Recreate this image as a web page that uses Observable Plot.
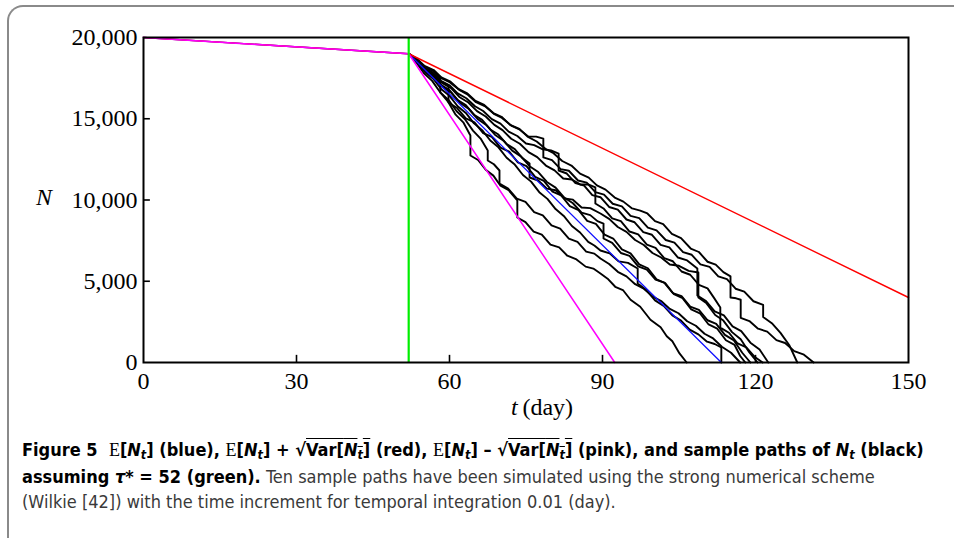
<!DOCTYPE html>
<html><head><meta charset="utf-8">
<script src="https://cdn.jsdelivr.net/npm/d3@7"></script>
<script src="https://cdn.jsdelivr.net/npm/@observablehq/plot@0.6"></script>
<style>
html,body{margin:0;padding:0;background:#fff;width:954px;height:538px;overflow:hidden;}
#wrap{position:relative;width:954px;height:538px;}
#box{position:absolute;left:7px;top:5px;width:980px;height:600px;border-top:2px solid #8a8a8a;border-left:2px solid #8a8a8a;border-top-left-radius:16px;box-sizing:border-box;}
#chart{position:absolute;left:0;top:0;}
.lab{position:absolute;font-family:"Liberation Serif","Times New Roman",serif;font-size:24px;color:#000;white-space:nowrap;}
#cap{position:absolute;left:22px;top:437px;width:925px;font-family:"Liberation Sans Narrow","DejaVu Sans Condensed","Roboto Condensed",sans-serif;font-size:18px;line-height:25.5px;color:#3a3a3a;white-space:nowrap;}
#cap b{color:#000;}
.sf{font-family:"Liberation Serif",serif;font-weight:normal;}
.ov{text-decoration:overline;}
sub{font-size:70%;vertical-align:-0.25em;line-height:0;}
</style></head>
<body><div id="wrap">
<div id="box"></div>
<div id="chart"></div>
<div class="lab" style="left:36px;top:184px;"><i>N</i></div>
<div class="lab" style="left:511px;top:394px;"><i>t</i>&#8201;(day)</div>
<div id="cap">
<div><b>Figure 5&nbsp; <span class="sf">E</span>[<i>N<sub>t</sub></i>] (blue), <span class="sf">E</span>[<i>N<sub>t</sub></i>] + √<span class="ov">Var[<i>N<sub>t</sub></i>]</span> (red), <span class="sf">E</span>[<i>N<sub>t</sub></i>] – √<span class="ov">Var[<i>N<sub>t</sub></i>]</span> (pink), and sample paths of <i>N<sub>t</sub></i> (black)</b></div>
<div><b>assuming <i>τ</i>* = 52 (green).</b> Ten sample paths have been simulated using the strong numerical scheme</div>
<div>(Wilkie [42]) with the time increment for temporal integration 0.01 (day).</div>
</div>
</div>
<script>
// ---- data (t in days, N) ----
const tauStar = 52;
const xTicks = [0, 30, 60, 90, 120, 150];
const yTicks = [0, 5000, 10000, 15000, 20000];
const xInnerTicks = [30, 60, 90, 120];
const yInnerTicks = [5000, 10000, 15000];

const meanPath  = [[0,20000],[52,19000],[113.3,0]];
const upperPath = [[0,20000],[52,19000],[150,4000]];
const lowerPath = [[0,20000],[52,19000],[92.4,0]];

const path1 = [[52,19000],[53.6,18700],[55.1,18250],[56.9,18000],[58.4,17550],[60.2,17280],[61.8,16820],[63.5,16560],[65.1,16100],[66.8,15850],[68.6,15350],[70.2,15120],[71.9,14620],[73.7,14380],[75.3,13900],[77.1,13600],[78.8,13150],[80.4,12880],[82.1,12400],[83.9,12120],[85.6,11620],[87.3,11380],[88.9,10900],[90.6,10640],[92.4,10150],[94.1,9900],[95.8,9480],[97.4,9350],[98.8,9170],[100.3,8700],[101.9,8520],[103.6,7920],[105.4,7650],[107.3,7015],[108.9,6800],[110.6,6200],[112.2,6020],[113.7,5560],[115.1,5300],[115.1,4000],[116.2,3950],[117.1,3860],[117.1,2750],[118.8,2550],[120.5,2080],[122.3,1900],[124.1,1380],[125.8,1200],[127.6,700],[129.5,480],[131.4,0]];
const path2 = [[52,19000],[53.4,18680],[55.2,18200],[56.8,17950],[58.5,17480],[60.1,17230],[61.9,16780],[63.6,16480],[65.2,16020],[67.0,15760],[68.7,15300],[70.3,15050],[72.1,14580],[73.8,14330],[75.5,13900],[77.0,13900],[78.4,13780],[78.4,12620],[80.1,12450],[81.8,11900],[83.4,11800],[85.2,11200],[86.9,11070],[88.6,10480],[90.3,10330],[92.0,9770],[93.8,9610],[95.5,9020],[97.2,8880],[98.9,8300],[100.6,8130],[102.4,7540],[104.1,7380],[105.8,6790],[107.5,6630],[109.2,6040],[111.0,5880],[112.7,5300],[114.4,5130],[116.1,4540],[117.8,4360],[119.6,3770],[121.5,3550],[121.5,2800],[123.2,2420],[124.9,1820],[126.6,1080],[128.2,0]];
const path3 = [[52,19000],[53.5,18620],[55.0,18140],[56.7,17840],[58.3,17340],[60.0,17060],[61.6,16560],[63.3,16260],[65.0,15770],[66.6,15480],[68.3,14980],[70.0,14700],[71.6,14210],[73.3,13940],[75.0,13480],[76.6,13380],[78.3,13120],[79.9,13050],[81.4,12860],[81.4,11815],[83.0,11630],[84.7,11040],[86.4,10880],[88.0,10300],[89.6,10170],[91.3,9570],[93.0,9410],[94.7,8800],[96.3,8630],[98.0,8020],[99.7,7860],[101.4,7240],[103.1,7080],[104.8,6460],[106.6,6280],[108.6,5780],[108.6,4120],[110.3,3780],[112.0,3140],[113.8,2900],[115.5,2220],[117.2,1930],[119.0,1220],[120.8,800],[122.5,0]];
const path4 = [[52,19000],[53.7,18580],[55.4,18040],[57.0,17720],[58.7,17170],[60.4,16860],[62.0,16320],[63.7,16000],[65.4,15470],[67.1,15140],[68.8,14620],[70.4,14300],[72.1,13770],[73.8,13460],[75.5,12950],[77.2,12640],[78.9,12120],[80.6,11820],[82.3,11320],[84.0,11260],[85.7,10950],[87.2,10960],[88.6,10770],[88.6,9785],[90.2,9480],[91.9,8870],[93.6,8700],[95.3,8060],[97.0,7880],[98.7,7250],[100.4,7060],[102.1,6420],[103.8,6230],[105.5,5600],[107.2,5400],[108.9,4770],[110.6,4560],[111.9,3960],[113.1,3380],[113.1,2150],[114.8,1830],[116.5,1170],[118.2,930],[119.8,360],[121.4,0]];
const path5 = [[52,19000],[53.6,18580],[55.2,18000],[56.8,17680],[58.4,17070],[60.0,16760],[61.6,16150],[63.2,15840],[64.8,15250],[66.4,14930],[68.0,14340],[69.6,14030],[71.2,13440],[72.8,13130],[74.3,12580],[75.7,12250],[75.7,11385],[77.4,11200],[79.1,10700],[80.8,10600],[82.5,10100],[84.2,10020],[85.9,9540],[87.6,9500],[89.6,9169],[91.3,8840],[93.0,8340],[94.7,8040],[96.4,7540],[98.1,7230],[99.8,6740],[101.5,6460],[103.2,6030],[105.0,5950],[106.9,5640],[108.8,5540],[108.8,4000],[110.4,3640],[112.1,2920],[113.7,2580],[115.4,1870],[117.1,1430],[118.8,620],[120.4,0]];
const path6 = [[52,19000],[53.7,18540],[55.4,17940],[57.0,17560],[58.7,16940],[60.4,16580],[62.1,15970],[63.8,15600],[65.5,14990],[67.2,14620],[68.9,14020],[70.6,13650],[72.3,13040],[74.0,12680],[75.7,12080],[77.4,11720],[79.1,11110],[80.8,10760],[82.5,10150],[84.2,9800],[85.9,9220],[87.6,9070],[89.0,8700],[90.2,8550],[90.2,7630],[91.9,7360],[93.6,6740],[95.3,6560],[97.0,5910],[98.7,5720],[100.4,5100],[102.1,4910],[103.8,4270],[105.5,4080],[107.2,3440],[108.9,3240],[110.6,2600],[112.3,2380],[114.0,1700],[115.7,1380],[117.4,600],[119.0,0]];
const path7 = [[52,19000],[53.5,18620],[55.0,18120],[56.5,17820],[58.1,17330],[59.8,17050],[59.8,16000],[61.5,15660],[63.2,15020],[64.9,14780],[66.6,14120],[68.3,13880],[70.0,13220],[71.7,12980],[73.4,12320],[75.1,12080],[76.8,11420],[78.5,11180],[80.2,10520],[81.9,10280],[83.6,9620],[85.3,9380],[87.0,8720],[88.7,8530],[90.4,7870],[92.1,7630],[93.8,6960],[95.5,6720],[97.2,6040],[98.9,5800],[100.6,5120],[102.3,4880],[104.0,4200],[105.7,3960],[107.4,3270],[109.1,3030],[110.8,2340],[112.5,2080],[114.2,1370],[115.9,1080],[117.0,400],[118.0,0]];
const path8 = [[52,19000],[53.6,18480],[55.2,17880],[56.8,17460],[58.4,16820],[60.0,16410],[61.6,15770],[63.2,15360],[64.8,14720],[66.4,14300],[68.0,13660],[69.6,13240],[71.2,12600],[72.8,12180],[74.4,11540],[76.0,11130],[77.6,10480],[79.2,10070],[80.8,9440],[82.4,9020],[84.0,8400],[85.6,8000],[87.2,7420],[88.4,7200],[89.6,6892],[91.4,6720],[93.2,6220],[95.0,6130],[96.9,5785],[96.9,4862],[98.6,4460],[100.3,3820],[102.0,3480],[103.7,2900],[105.4,2580],[107.1,2020],[108.8,1730],[110.5,1280],[112.0,1140],[113.3,923],[113.3,0]];
const path9 = [[52,19000],[53.5,18460],[55.0,17800],[56.6,17330],[58.2,16620],[59.8,16160],[61.4,15460],[63.0,14980],[64.6,14270],[66.1,13780],[67.5,13046],[67.5,12430],[68.7,12200],[69.8,11815],[69.8,11015],[71.5,10700],[73.2,10080],[74.9,9880],[76.6,9260],[78.3,9060],[80.0,8440],[81.7,8240],[83.4,7620],[85.1,7420],[86.8,6820],[88.4,6700],[89.6,6400],[91.3,6060],[93.0,5580],[94.7,5300],[96.4,4820],[98.1,4540],[99.8,4070],[101.5,3780],[103.2,3300],[104.9,3030],[106.6,2540],[108.3,2260],[110.0,1770],[111.7,1480],[113.4,970],[115.2,600],[117.0,0]];
const path10 = [[52,19000],[53.5,18680],[55.1,18150],[56.7,17960],[58.2,17477],[58.2,16615],[59.7,16060],[61.2,15250],[62.7,14780],[64.1,13969],[64.1,12738],[65.6,12460],[67.1,11860],[68.6,11500],[70.0,10880],[71.6,10600],[73.3,9969],[73.3,8923],[74.9,8640],[76.5,8050],[78.1,7870],[79.8,7250],[81.5,7090],[83.1,6570],[84.9,6340],[86.7,5900],[88.2,5780],[89.6,5477],[91.0,5160],[92.5,4660],[94.0,4460],[95.5,3860],[97.4,3430],[99.4,2630],[101.4,2170],[102.6,1620],[103.7,1310],[105.1,560],[106.5,0]];

const samplePaths = [path1, path2, path3, path4, path5, path6, path7, path8, path9, path10];

const tickLenN = 440;   // inward tick length along N (data units)
const tickLenT = 1.35;  // inward tick length along t (data units)

const X = d => d[0], Y = d => d[1];

const chart = Plot.plot({
  width: 954, height: 430,
  marginLeft: 143, marginRight: 46, marginTop: 37, marginBottom: 68,
  style: {fontFamily: '"Liberation Serif","Times New Roman",serif', background: "transparent", color: "#000"},
  x: {domain: [0, 150]},
  y: {domain: [0, 20000]},
  marks: [
    ...samplePaths.map(p => Plot.line(p, {x: X, y: Y, stroke: "#000", strokeWidth: 1.9})),
    Plot.line(meanPath, {x: X, y: Y, stroke: "#1010ff", strokeWidth: 1.3}),
    Plot.line(upperPath, {x: X, y: Y, stroke: "#ff0000", strokeWidth: 1.4}),
    Plot.line(lowerPath, {x: X, y: Y, stroke: "#ff00ff", strokeWidth: 1.5}),
    Plot.ruleX([tauStar], {x: d => d, stroke: "#00ee00", strokeWidth: 2.2}),
    Plot.ruleX(xInnerTicks, {x: d => d, y1: 0, y2: tickLenN, stroke: "#000", strokeWidth: 1.6}),
    Plot.ruleY(yInnerTicks, {y: d => d, x1: 0, x2: tickLenT, stroke: "#000", strokeWidth: 1.6}),
    Plot.frame({stroke: "#000", strokeWidth: 2}),
    Plot.axisX(xTicks, {tickSize: 0, tickPadding: 9, fontSize: 24, label: null, tickFormat: d => String(d)}),
    Plot.axisY(yTicks, {tickSize: 0, tickPadding: 6, fontSize: 24, label: null, tickFormat: d3.format(",")})
  ]
});
document.getElementById("chart").appendChild(chart);
</script>
</body></html>
